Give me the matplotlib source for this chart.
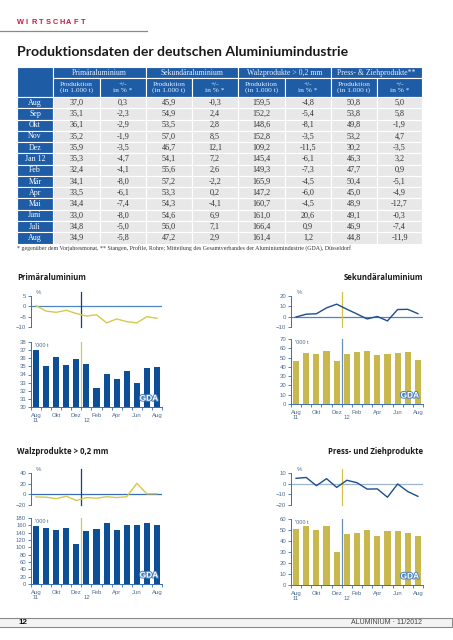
import matplotlib
matplotlib.use("Agg")
import matplotlib.pyplot as plt
from matplotlib.patches import Rectangle
import matplotlib.patheffects as pe

W, H = 453, 640

months = ["Aug", "Sep", "Okt", "Nov", "Dez", "Jan 12", "Feb", "Mär", "Apr", "Mai", "Juni", "Juli", "Aug"]
prim_prod = [37.0, 35.1, 36.1, 35.2, 35.9, 35.3, 32.4, 34.1, 33.5, 34.4, 33.0, 34.8, 34.9]
prim_pct = [0.3, -2.3, -2.9, -1.9, -3.5, -4.7, -4.1, -8.0, -6.1, -7.4, -8.0, -5.0, -5.8]
sek_prod = [45.9, 54.9, 53.5, 57.0, 46.7, 54.1, 55.6, 57.2, 53.3, 54.3, 54.6, 56.0, 47.2]
sek_pct = [-0.3, 2.4, 2.8, 8.5, 12.1, 7.2, 2.6, -2.2, 0.2, -4.1, 6.9, 7.1, 2.9]
walz_prod = [159.5, 152.2, 148.6, 152.8, 109.2, 145.4, 149.3, 165.9, 147.2, 160.7, 161.0, 166.4, 161.4]
walz_pct = [-4.8, -5.4, -8.1, -3.5, -11.5, -6.1, -7.3, -4.5, -6.0, -4.5, 20.6, 0.9, 1.2]
press_prod = [50.8, 53.8, 49.8, 53.2, 30.2, 46.3, 47.7, 50.4, 45.0, 48.9, 49.1, 46.9, 44.8]
press_pct = [5.0, 5.8, -1.9, 4.7, -3.5, 3.2, 0.9, -5.1, -4.9, -12.7, -0.3, -7.4, -11.9]

sections = ["Primäraluminium", "Sekundäraluminium", "Walzprodukte > 0,2 mm", "Press- & Ziehprodukte**"]
sub_headers = ["Produktion\n(in 1.000 t)", "+/-\nin % *"]
x_tick_labels = ["Aug\n11", "", "Okt", "", "Dez", "\n12", "Feb", "", "Apr", "", "Jun", "", "Aug"]

BLUE = "#1f5ca6"
DARKBLUE = "#0d4f97"
YELLOW = "#c9b84e"
LINEYEL = "#d8c84a"
TICKC = "#4d6a90"
SPINE = "#3a6eb0"

serif = ["Liberation Serif", "DejaVu Serif"]
sans = ["Liberation Sans", "DejaVu Sans"]

fig = plt.figure(figsize=(W / 100, H / 100), dpi=100)


def axpx(x0, y0, x1, y1):
    return fig.add_axes([x0 / W, 1 - y1 / H, (x1 - x0) / W, (y1 - y0) / H])


def fx(x):
    return x / W


def fy(y):
    return 1 - y / H


# ---------- header ----------
for i, ch in enumerate("WIRTSCHAFT"):
    fig.text(fx(20 + i * 7.0), fy(23), ch, color="#c8173f", fontsize=5.3,
             fontweight="bold", family=sans, va="center", ha="center")
fig.add_artist(plt.Line2D([0, fx(147)], [fy(31), fy(31)], color="#8a8a8a", lw=0.9))
fig.text(fx(17), fy(52), "Produktionsdaten der deutschen Aluminiumindustrie",
         fontsize=10.1, fontweight="bold", family=["Lato", "DejaVu Sans"],
         color="#1a1a1a", va="center", ha="left")

# ---------- table ----------
tax = axpx(17, 67, 422, 244)
tax.set_xlim(17, 422)
tax.set_ylim(244, 67)
tax.axis("off")
colx = [17, 53, 100, 146, 192, 238, 285, 331, 377, 422]
r1, r2, r3 = 67, 78, 97
rh = (243.5 - 97) / 13


def cell(x0, x1, y0, y1, fc):
    tax.add_patch(Rectangle((x0, y0), x1 - x0, y1 - y0, facecolor=fc,
                            edgecolor="white", lw=0.8))


cell(17, 53, r1, r3, BLUE)
for s in range(4):
    xa, xb = colx[1 + 2 * s], colx[3 + 2 * s]
    cell(xa, xb, r1, r2, BLUE)
    tax.text((xa + xb) / 2, (r1 + r2) / 2 + 0.3, sections[s], ha="center", va="center",
             fontsize=5.6, family=serif, color="#e6eef8")
    for k in range(2):
        xa2, xb2 = colx[1 + 2 * s + k], colx[2 + 2 * s + k]
        cell(xa2, xb2, r2, r3, BLUE)
        tax.text((xa2 + xb2) / 2, (r2 + r3) / 2, sub_headers[k], ha="center", va="center",
                 fontsize=5.3, family=serif, color="#e6eef8", linespacing=1.0)

cols = [prim_prod, prim_pct, sek_prod, sek_pct, walz_prod, walz_pct, press_prod, press_pct]
for i, m in enumerate(months):
    y0 = r3 + i * rh
    y1 = y0 + rh
    cell(17, 53, y0, y1, BLUE)
    tax.text(35, (y0 + y1) / 2, m, ha="center", va="center", fontsize=5.7,
             family=serif, color="white")
    for c in range(8):
        cell(colx[c + 1], colx[c + 2], y0, y1, "#e8e8e8")
        txt = f"{cols[c][i]:.1f}".replace(".", ",")
        tax.text((colx[c + 1] + colx[c + 2]) / 2, (y0 + y1) / 2, txt, ha="center",
                 va="center", fontsize=5.9, family=serif, color="#333333")

fig.text(fx(17), fy(248.5),
         "* gegenüber dem Vorjahresmonat, ** Stangen, Profile, Rohre; Mitteilung des "
         "Gesamtverbandes der Aluminiumindustrie (GDA), Düsseldorf",
         fontsize=4.2, family=serif, color="#333333", va="center", ha="left")


# ---------- charts ----------
def style_axis(ax):
    for s in ["top", "right"]:
        ax.spines[s].set_visible(False)
    ax.spines["left"].set_color(SPINE)
    ax.spines["left"].set_linewidth(0.7)
    ax.tick_params(axis="y", direction="out", length=2, width=0.6, color=SPINE,
                   labelsize=4.3, labelcolor=TICKC, pad=1.5)
    for t in ax.get_yticklabels():
        t.set_family(sans)
    ax.patch.set_alpha(0)


def panel(x0, x1, yt0, yt1, yb0, yb1, pct, prod, tlim, tticks, blim, bticks,
          line_c, bar_c, vtop_c, vbar_c, zero_c):
    n = len(prod)
    xs = list(range(n))
    # top line chart
    at = axpx(x0, yt0, x1, yt1)
    at.set_xlim(-0.5, n - 0.5)
    at.set_ylim(*tlim)
    at.axhline(0, color=zero_c, lw=0.9, zorder=1)
    at.plot(xs, pct, color=line_c, lw=1.0, zorder=3)
    at.axvline(4.5, ymin=0, ymax=1.12, color=vtop_c, lw=0.9, zorder=2, clip_on=False)
    at.set_yticks(tticks)
    at.set_xticks([])
    at.spines["bottom"].set_visible(False)
    style_axis(at)
    at.text(0.04, 1.03, "%", transform=at.transAxes, fontsize=4.3,
            color=TICKC, family=sans, ha="left", va="bottom")
    at.set_ylim(*tlim)
    # bar chart
    ab = axpx(x0, yb0, x1, yb1)
    ab.bar(xs, prod, width=0.6, color=bar_c, zorder=2)
    ab.set_xlim(-0.5, n - 0.5)
    ab.set_ylim(*blim)
    ab.axvline(4.5, ymin=0, ymax=1.0, color=vbar_c, lw=0.9, zorder=3)
    ab.set_yticks(bticks)
    ab.set_xticks(xs)
    ab.set_xticklabels(x_tick_labels, fontsize=4.3, color=TICKC, family=sans,
                       linespacing=1.1)
    ab.set_xticks([i - 0.5 for i in range(n + 1)], minor=True)
    ab.tick_params(axis="x", which="major", length=0, pad=4)
    ab.tick_params(axis="x", which="minor", length=2, width=0.6, color=SPINE)
    ab.spines["bottom"].set_color(SPINE)
    ab.spines["bottom"].set_linewidth(0.7)
    style_axis(ab)
    ab.text(0.03, 0.985, "'000 t", transform=ab.transAxes, fontsize=4.0,
            color=TICKC, family=sans, ha="left", va="top", zorder=5)
    ab.text(11.2, blim[0] + 0.12 * (blim[1] - blim[0]), "GDA", fontsize=6.0,
            fontweight="bold", color="white", family=sans, ha="center", va="center",
            zorder=6, path_effects=[pe.withStroke(linewidth=1.4, foreground="#4a82bd")])
    return at, ab


panel(31, 162, 296, 327, 342, 407, prim_pct, prim_prod, (-10, 5), [-10, -5, 0, 5],
      (30, 38), list(range(30, 39)), LINEYEL, DARKBLUE, "#153f78", LINEYEL, "#4f86bd")
panel(291, 423, 296, 327, 339, 404, sek_pct, sek_prod, (-10, 20), [-10, 0, 10, 20],
      (0, 70), list(range(0, 71, 10)), "#1c4f8c", YELLOW, "#d2c14a", "#6a8fb8", "#4f86bd")
panel(31, 162, 473, 505, 518, 584, walz_pct, walz_prod, (-20, 40), [-20, 0, 20, 40],
      (0, 180), list(range(0, 181, 20)), LINEYEL, DARKBLUE, "#153f78", LINEYEL, "#3a6eb0")
panel(291, 423, 473, 505, 519, 585, press_pct, press_prod, (-20, 10), [-20, -10, 0, 10],
      (0, 60), list(range(0, 61, 10)), "#1c4f8c", YELLOW, "#d2c14a", "#6a8fb8", "#9db7d3")

# panel titles
tfont = dict(fontsize=5.6, fontweight="bold", family=["Open Sans", "DejaVu Sans"],
             color="#1a1a1a", va="center")
fig.text(fx(17), fy(277), "Primäraluminium", ha="left", **tfont)
fig.text(fx(423), fy(277), "Sekundäraluminium", ha="right", **tfont)
fig.text(fx(17), fy(451), "Walzprodukte > 0,2 mm", ha="left", **tfont)
fig.text(fx(423), fy(451), "Press- und Ziehprodukte", ha="right", **tfont)

# ---------- footer ----------
fig.add_artist(Rectangle((fx(-2), fy(627)), fx(454), (627 - 618) / H,
                         transform=fig.transFigure, facecolor="#f3f3f3",
                         edgecolor="#8a8a8a", lw=0.8))
fig.text(fx(18), fy(622.8), "12", fontsize=5.8, fontweight="bold", family=sans,
         color="#111111", ha="left", va="center")
fig.text(fx(422), fy(622.8), "ALUMINIUM · 11/2012", fontsize=5.0, family=sans,
         color="#444444", ha="right", va="center")

fig.savefig("out.png", dpi=100)
